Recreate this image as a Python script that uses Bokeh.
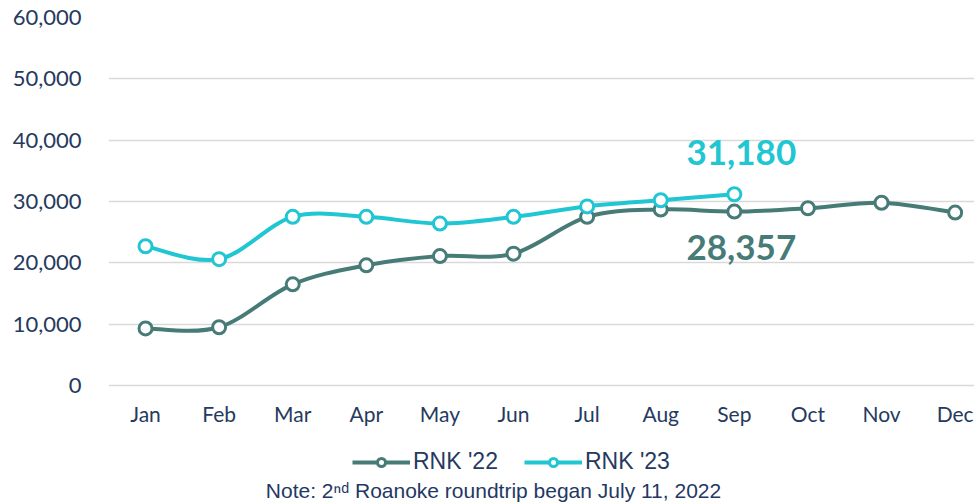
from bokeh.plotting import figure
from bokeh.models import (ColumnDataSource, FixedTicker, NumeralTickFormatter, Legend,
                          LegendItem, Label, Range1d)
from bokeh.core.properties import value
from bokeh.embed import file_html
from bokeh.resources import INLINE

months = ["Jan", "Feb", "Mar", "Apr", "May", "Jun", "Jul", "Aug", "Sep", "Oct", "Nov", "Dec"]
rnk22 = [9300, 9500, 16500, 19600, 21100, 21500, 27500, 28700, 28357, 28900, 29800, 28200]
rnk23 = [22700, 20600, 27500, 27500, 26400, 27500, 29200, 30200, 31180]
y_ticks = [0, 10000, 20000, 30000, 40000, 50000, 60000]

C22 = "#477b78"
C23 = "#20c6d2"
TXT = "#253a5e"

p = figure(width=974, height=503, output_backend="svg", toolbar_location=None,
           x_range=Range1d(-0.503, 11.263), y_range=Range1d(-19239, 60000),
           min_border_left=108, min_border_right=0, min_border_top=17, min_border_bottom=0)
p.outline_line_color = None
p.background_fill_color = "white"
p.border_fill_color = "white"

def bezier_segments(ys):
    xs = list(range(len(ys)))
    n = len(ys)
    d = dict(x0=[], y0=[], x1=[], y1=[], cx0=[], cy0=[], cx1=[], cy1=[])
    for i in range(n - 1):
        p0 = (xs[max(i - 1, 0)], ys[max(i - 1, 0)])
        p1 = (xs[i], ys[i])
        p2 = (xs[i + 1], ys[i + 1])
        p3 = (xs[min(i + 2, n - 1)], ys[min(i + 2, n - 1)])
        d["x0"].append(p1[0]); d["y0"].append(p1[1])
        d["x1"].append(p2[0]); d["y1"].append(p2[1])
        d["cx0"].append(p1[0] + (p2[0] - p0[0]) / 6); d["cy0"].append(p1[1] + (p2[1] - p0[1]) / 6)
        d["cx1"].append(p2[0] - (p3[0] - p1[0]) / 6); d["cy1"].append(p2[1] - (p3[1] - p1[1]) / 6)
    return ColumnDataSource(d)

b22 = p.bezier(x0="x0", y0="y0", x1="x1", y1="y1", cx0="cx0", cy0="cy0", cx1="cx1", cy1="cy1",
               source=bezier_segments(rnk22), line_color=C22, line_width=4)
b23 = p.bezier(x0="x0", y0="y0", x1="x1", y1="y1", cx0="cx0", cy0="cy0", cx1="cx1", cy1="cy1",
               source=bezier_segments(rnk23), line_color=C23, line_width=4)
s22 = ColumnDataSource(dict(x=list(range(len(rnk22))), y=rnk22))
s23 = ColumnDataSource(dict(x=list(range(len(rnk23))), y=rnk23))
m22 = p.scatter("x", "y", source=s22, size=13, fill_color="white", line_color=C22, line_width=3)
m23 = p.scatter("x", "y", source=s23, size=13, fill_color="white", line_color=C23, line_width=3)

# value labels for latest month
last = len(rnk23) - 1
lab23 = ColumnDataSource(dict(x=[last], y=[rnk23[last]], t=[f"{rnk23[last]:,}"]))
lab22 = ColumnDataSource(dict(x=[last], y=[rnk22[last]], t=[f"{rnk22[last]:,}"]))
p.text("x", "y", text="t", source=lab23, x_offset=7, y_offset=-42, text_align="center",
       text_baseline="middle", text_font=value("Lato"), text_font_style="bold",
       text_font_size="35px", text_color=C23)
p.text("x", "y", text="t", source=lab22, x_offset=7, y_offset=36, text_align="center",
       text_baseline="middle", text_font=value("Lato"), text_font_style="bold",
       text_font_size="35px", text_color=C22)

# axes
p.xaxis.fixed_location = 0
p.xaxis.ticker = FixedTicker(ticks=list(range(12)))
p.xaxis.major_label_overrides = {i: m for i, m in enumerate(months)}
p.xaxis.axis_line_color = None
p.xaxis.major_tick_line_color = None
p.xaxis.minor_tick_line_color = None
p.xaxis.major_label_text_font = "Lato"
p.xaxis.major_label_text_font_size = "21px"
p.xaxis.major_label_text_color = TXT
p.xaxis.major_label_standoff = 9

p.yaxis.ticker = FixedTicker(ticks=y_ticks)
p.yaxis.formatter = NumeralTickFormatter(format="0,0")
p.yaxis.axis_line_color = None
p.yaxis.major_tick_line_color = None
p.yaxis.minor_tick_line_color = None
p.yaxis.major_label_text_font = "Lato"
p.yaxis.major_label_text_font_size = "22px"
p.yaxis.major_label_text_color = TXT
p.yaxis.major_label_standoff = 21

p.xgrid.grid_line_color = None
p.ygrid.grid_line_color = "#d9d9d9"
p.ygrid.grid_line_width = 1.5

legend = Legend(items=[LegendItem(label="RNK '22", renderers=[b22, m22]),
                       LegendItem(label="RNK '23", renderers=[b23, m23])],
                orientation="horizontal", location=(244, 28),
                label_text_font="Liberation Sans", label_text_font_size="23px",
                label_text_color=TXT, glyph_width=58, glyph_height=20,
                spacing=26, padding=0, margin=0, border_line_color=None,
                background_fill_alpha=0, label_standoff=3)
p.add_layout(legend, "center")

note = Label(x=385, y=13, x_units="screen", y_units="screen",
             text="Note: 2\u207f\u1d48 Roanoke roundtrip began July 11, 2022",
             text_align="center", text_baseline="middle",
             text_font="Liberation Sans", text_font_size="21px", text_color="#1f3864")
p.add_layout(note, "center")

open("out.html", "w").write(file_html(p, INLINE))
